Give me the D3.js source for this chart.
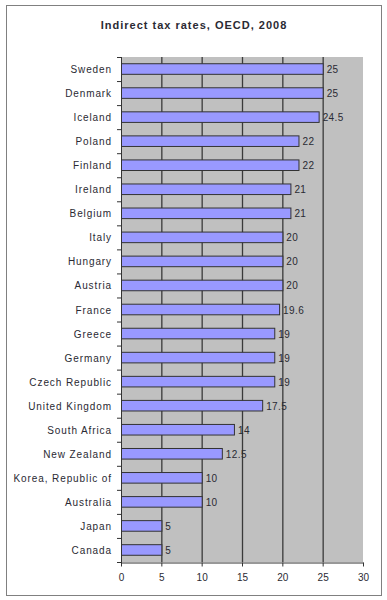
<html>
    <head>
        <style>
            body { margin: 0; background: #fff; }
            text { font-family: Arial, "Liberation Sans", sans-serif; fill: #2a2a33; }
        </style>
        <script src="https://d3js.org/d3.v7.min.js"></script>
    </head>
    <body>
        <svg id="chart" width="387" height="600"></svg>
        <script>
            const countries = ["Sweden", "Denmark", "Iceland", "Poland", "Finland", "Ireland", "Belgium",
                "Italy", "Hungary", "Austria", "France", "Greece", "Germany", "Czech Republic",
                "United Kingdom", "South Africa", "New Zealand", "Korea, Republic of", "Australia",
                "Japan", "Canada"];
            const rates = [25, 25, 24.5, 22, 22, 21, 21, 20, 20, 20, 19.6, 19, 19, 19, 17.5, 14, 12.5, 10, 10, 5, 5];
            const xTicks = [0, 5, 10, 15, 20, 25, 30];

            const data = countries.map((c, i) => ({country: c, rate: rates[i]}));
            const svg = d3.select('#chart');

            const plotLeft = 121, plotRight = 363, plotTop = 57, plotBottom = 562;

            // outer frame
            svg.append('rect')
                .attr('x', 6.5).attr('y', 5.5)
                .attr('width', 375).attr('height', 590)
                .attr('fill', '#fff')
                .attr('stroke', '#808080');

            svg.append('text')
                .attr('x', 194).attr('y', 29)
                .attr('text-anchor', 'middle')
                .style('font-size', '11px')
                .style('font-weight', 'bold')
                .style('letter-spacing', '1px')
                .text('Indirect tax rates, OECD, 2008');

            const xScale = d3.scaleLinear().domain([0, 30]).range([plotLeft, plotRight]);
            const yScale = d3.scaleBand().domain(countries).range([plotTop, plotBottom])
                .paddingInner(0.56).paddingOuter(0.28);

            // plot background
            svg.append('rect')
                .attr('x', plotLeft).attr('y', plotTop)
                .attr('width', plotRight - plotLeft).attr('height', plotBottom - plotTop)
                .attr('fill', '#c0c0c0');

            // vertical grid lines
            svg.append('g')
                .selectAll('line')
                .data(xTicks.slice(1, -1))
                .enter()
                .append('line')
                .attr('x1', d => xScale(d) + 0.5).attr('x2', d => xScale(d) + 0.5)
                .attr('y1', plotTop).attr('y2', plotBottom)
                .attr('stroke', '#3a3a3a')
                .attr('stroke-width', 1.3);

            // bars
            svg.append('g')
                .selectAll('rect')
                .data(data)
                .enter()
                .append('rect')
                .attr('x', xScale(0) + 0.5)
                .attr('y', d => yScale(d.country))
                .attr('width', d => xScale(d.rate) - xScale(0))
                .attr('height', yScale.bandwidth())
                .attr('fill', '#9999ff')
                .attr('stroke', '#333')
                .attr('stroke-width', 1);

            // value labels
            svg.append('g')
                .selectAll('text')
                .data(data)
                .enter()
                .append('text')
                .attr('x', d => xScale(d.rate) + 4)
                .attr('y', d => yScale(d.country) + yScale.bandwidth() / 2 + 4)
                .style('font-size', '10px')
                .style('letter-spacing', '0.4px')
                .text(d => d.rate);

            // x axis
            const xAxis = svg.append('g')
                .attr('transform', `translate(0, ${plotBottom + 0.5})`)
                .call(d3.axisBottom(xScale).tickValues(xTicks).tickSize(4).tickSizeOuter(0));
            xAxis.select('.domain').attr('stroke', '#333');
            xAxis.selectAll('line').attr('stroke', '#333');
            xAxis.selectAll('text').style('font-size', '10px').attr('fill', '#2a2a33').attr('dy', '1.1em');

            // y axis line and category ticks
            svg.append('line')
                .attr('x1', plotLeft + 0.5).attr('x2', plotLeft + 0.5)
                .attr('y1', plotTop).attr('y2', plotBottom + 1)
                .attr('stroke', '#333');
            svg.append('g')
                .selectAll('line')
                .data(d3.range(countries.length + 1))
                .enter()
                .append('line')
                .attr('x1', plotLeft - 4).attr('x2', plotLeft)
                .attr('y1', i => plotTop + (plotBottom - plotTop) * i / countries.length + 0.5)
                .attr('y2', i => plotTop + (plotBottom - plotTop) * i / countries.length + 0.5)
                .attr('stroke', '#333');

            // category labels
            svg.append('g')
                .selectAll('text')
                .data(countries)
                .enter()
                .append('text')
                .attr('x', plotLeft - 9)
                .attr('y', d => yScale(d) + yScale.bandwidth() / 2 + 4)
                .attr('text-anchor', 'end')
                .style('font-size', '10px')
                .style('letter-spacing', '0.9px')
                .text(d => d);
        </script>
    </body>
</html>
